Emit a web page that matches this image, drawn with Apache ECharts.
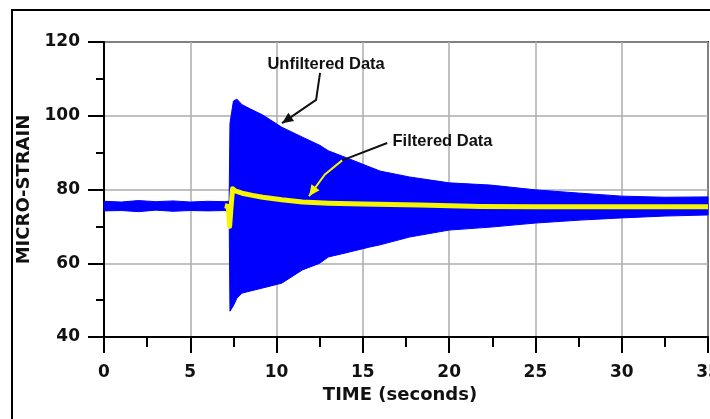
<!DOCTYPE html>
<html>
<head>
<meta charset="utf-8">
<script src="https://cdn.jsdelivr.net/npm/echarts@6/dist/echarts.min.js"></script>
<style>
  html, body { margin: 0; padding: 0; background: #ffffff; }
  #chart { width: 710px; height: 419px; }
</style>
</head>
<body>
<div id="chart"></div>
<script>
// Strain gauge record: raw signal envelope and low-pass filtered trace.
const envelopeTime = [0, 1, 2, 3, 4, 5, 6, 7, 7.25, 7.3, 7.5, 7.7, 8.0, 8.5, 9.2, 10.3, 11.5, 12.5, 13.0, 14.0, 15.4, 16.0, 17.7, 20.0, 22.4, 25.0, 27.6, 30.0, 32.5, 35.0];
const unfilteredHigh = [76.8, 76.6, 77.0, 76.7, 76.9, 76.6, 76.8, 76.7, 76.8, 98.0, 104.0, 104.5, 103.0, 101.8, 100.2, 96.9, 94.2, 92.0, 90.5, 88.7, 86.1, 85.0, 83.4, 81.8, 81.2, 79.9, 79.0, 78.2, 77.9, 78.0];
const unfilteredLow  = [74.2, 74.3, 74.0, 74.4, 74.1, 74.3, 74.2, 74.3, 74.0, 47.0, 48.5, 50.5, 51.9, 52.5, 53.3, 54.6, 58.2, 60.0, 61.7, 62.8, 64.4, 65.0, 67.1, 69.0, 69.8, 70.9, 71.7, 72.3, 72.8, 73.1];

const filteredTime = [7.0, 7.2, 7.28, 7.35, 7.45, 7.6, 8.0, 8.6, 9.2, 10.3, 11.5, 13.0, 15.0, 18.3, 21.8, 25.0, 30.0, 35.0];
const filteredValue = [75.6, 75.4, 70.0, 74.5, 80.2, 79.6, 79.0, 78.4, 77.9, 77.2, 76.6, 76.3, 76.1, 75.8, 75.4, 75.3, 75.3, 75.3];

const timeTicks = [0, 5, 10, 15, 20, 25, 30, 35];
const strainTicks = [40, 60, 80, 100, 120];

const BLUE = '#0000ff';
const YELLOW = '#f5f500';
const AXIS_FONT = '"DejaVu Sans", sans-serif';
const NOTE_FONT = '"Liberation Sans", Arial, sans-serif';

const envelopeRows = envelopeTime.map((t, i) => [t, unfilteredLow[i], unfilteredHigh[i]]);
const filteredPairs = filteredTime.map((t, i) => [t, filteredValue[i]]);

const chart = echarts.init(document.getElementById('chart'), null, { renderer: 'canvas' });

const axisLabelStyle = { color: '#111', fontFamily: AXIS_FONT, fontWeight: 'bold', fontSize: 17 };

// The raw signal oscillates too fast to resolve, so it is drawn as its filled envelope.
function renderEnvelope(params, api) {
  if (params.dataIndex !== 0) return null;
  const top = envelopeRows.map(r => api.coord([r[0], r[2]]));
  const bottom = envelopeRows.map(r => api.coord([r[0], r[1]])).reverse();
  return {
    type: 'polygon',
    shape: { points: top.concat(bottom) },
    style: { fill: BLUE, stroke: BLUE, lineWidth: 1 }
  };
}

chart.setOption({
  animation: false,
  backgroundColor: '#ffffff',
  grid: {
    left: 104, top: 42, right: 2, bottom: 82,
    outerBoundsMode: 'none', containLabel: false,
    show: true, borderColor: '#000', borderWidth: 2, backgroundColor: 'transparent'
  },
  xAxis: {
    type: 'value',
    min: timeTicks[0], max: timeTicks[timeTicks.length - 1], interval: 5,
    name: 'TIME (seconds)', nameLocation: 'middle', nameGap: 47,
    nameTextStyle: { color: '#111', fontFamily: AXIS_FONT, fontWeight: 'bold', fontSize: 18, padding: [0, 12, 0, 0] },
    axisLine: { show: true, lineStyle: { color: '#000', width: 2 } },
    axisTick: { show: true, length: 16, lineStyle: { color: '#000', width: 2 } },
    minorTick: { show: true, splitNumber: 2, length: 10, lineStyle: { color: '#000', width: 2 } },
    axisLabel: Object.assign({ margin: 27, showMaxLabel: true, hideOverlap: false }, axisLabelStyle),
    splitLine: { show: true, lineStyle: { color: '#acacac', width: 1.5 } }
  },
  yAxis: {
    type: 'value',
    min: strainTicks[0], max: strainTicks[strainTicks.length - 1], interval: 20,
    name: 'MICRO-STRAIN', nameLocation: 'middle', nameGap: 68,
    nameTextStyle: { color: '#111', fontFamily: AXIS_FONT, fontWeight: 'bold', fontSize: 18 },
    axisLine: { show: true, lineStyle: { color: '#000', width: 2 } },
    axisTick: { show: true, length: 16, lineStyle: { color: '#000', width: 2 } },
    minorTick: { show: true, splitNumber: 2, length: 8, lineStyle: { color: '#000', width: 2 } },
    axisLabel: Object.assign({ margin: 24 }, axisLabelStyle),
    splitLine: { show: true, lineStyle: { color: '#acacac', width: 1.5 } }
  },
  series: [
    {
      name: 'Unfiltered Data', type: 'custom', data: envelopeRows,
      encode: { x: 0, y: [1, 2] }, silent: true, z: 3,
      renderItem: renderEnvelope
    },
    {
      name: 'Filtered Data', type: 'line', data: filteredPairs,
      symbol: 'none', silent: true, z: 5,
      lineStyle: { color: YELLOW, width: 5, join: 'round' }
    }
  ]
});

// Callouts placed in data coordinates
const px = (t, v) => chart.convertToPixel({ gridIndex: 0 }, [t, v]);

function arrowHead(tip, from, color, len, half) {
  const dx = tip[0] - from[0], dy = tip[1] - from[1];
  const d = Math.hypot(dx, dy) || 1;
  const ux = dx / d, uy = dy / d;
  const bx = tip[0] - ux * len, by = tip[1] - uy * len;
  return {
    type: 'polygon', z: 120,
    shape: { points: [tip, [bx - uy * half, by + ux * half], [bx + uy * half, by - ux * half]] },
    style: { fill: color }
  };
}

const blackPath = [px(12.52, 111.6), px(12.29, 104.3), px(10.32, 98.0)];
const fLead = [px(16.41, 92.6), px(13.8, 87.9)];
const yellowPath = [px(13.8, 87.9), px(12.8, 84.1), px(11.88, 78.2)];
const unfLabel = px(12.87, 114.0);
const filLabel = px(16.72, 92.9);

chart.setOption({
  graphic: [
    {
      type: 'rect', z: 200, silent: true,
      shape: { x: 12, y: 10, width: 740, height: 440 },
      style: { fill: 'none', stroke: '#000', lineWidth: 2 }
    },
    {
      type: 'text', z: 120, x: unfLabel[0], y: unfLabel[1],
      style: { text: 'Unfiltered Data', fill: '#111', font: 'bold 16.5px ' + NOTE_FONT, align: 'center', verticalAlign: 'middle' }
    },
    {
      type: 'text', z: 120, x: filLabel[0], y: filLabel[1],
      style: { text: 'Filtered Data', fill: '#111', font: 'bold 16.5px ' + NOTE_FONT, align: 'left', verticalAlign: 'middle' }
    },
    {
      type: 'polyline', z: 120, shape: { points: blackPath },
      style: { stroke: '#111', lineWidth: 2, fill: null }
    },
    arrowHead(blackPath[2], blackPath[1], '#111', 11, 5),
    {
      type: 'polyline', z: 120, shape: { points: fLead },
      style: { stroke: '#111', lineWidth: 2, fill: null }
    },
    {
      type: 'polyline', z: 120, shape: { points: yellowPath },
      style: { stroke: YELLOW, lineWidth: 2, fill: null }
    },
    arrowHead(yellowPath[2], yellowPath[1], YELLOW, 11, 5)
  ]
});
</script>
</body>
</html>
